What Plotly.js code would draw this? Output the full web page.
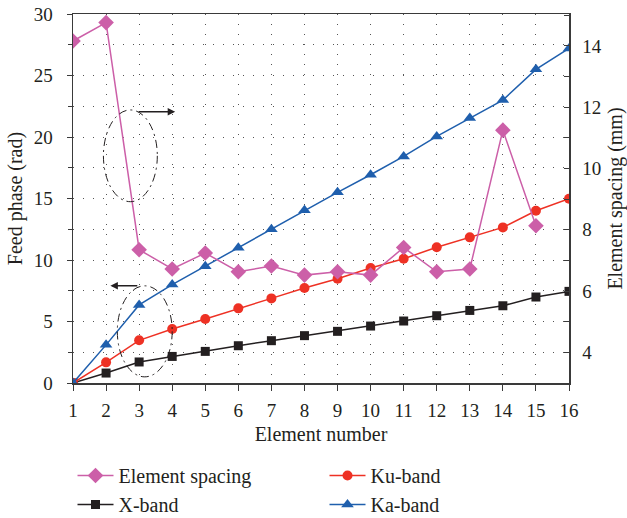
<!DOCTYPE html>
<html>
<head>
<meta charset="utf-8">
<script src="https://cdn.plot.ly/plotly-3.0.1.min.js"></script>
<style>html,body{margin:0;padding:0;background:#fff;}#chart{width:627px;height:518px;}</style>
</head>
<body>
<div id="chart"></div>
<script>
const elementNumber = [1,2,3,4,5,6,7,8,9,10,11,12,13,14,15,16];
const spacingElements = [1,2,3,4,5,6,7,8,9,10,11,12,13,14,15];
const elementSpacing = [14.16,14.76,7.35,6.72,7.24,6.63,6.82,6.52,6.63,6.52,7.42,6.63,6.72,11.25,8.13];
const xBand = [0,0.81,1.71,2.16,2.57,3.03,3.44,3.85,4.2,4.63,5.04,5.47,5.9,6.28,6.99,7.45];
const kuBand = [0,1.68,3.47,4.39,5.2,6.07,6.88,7.72,8.48,9.35,10.1,11.03,11.84,12.65,14.0,14.98];
const kaBand = [0,3.1,6.35,8.0,9.5,11.0,12.5,14.05,15.5,16.93,18.42,20.05,21.54,23.0,25.5,27.2];

const fontFam = "'Liberation Serif', 'Times New Roman', serif";
const axisCol = '#3a3a3a';
const gridCol = '#555';

const traces = [
  {x: elementNumber, y: xBand, name: 'X-band', type: 'scatter', mode: 'lines+markers',
   line: {color: '#231f20', width: 1.5}, marker: {symbol: 'square', size: 9, color: '#231f20'}, legendrank: 3},
  {x: elementNumber, y: kuBand, name: 'Ku-band', type: 'scatter', mode: 'lines+markers',
   line: {color: '#ee3124', width: 1.5}, marker: {symbol: 'circle', size: 10, color: '#ee3124'}, legendrank: 2},
  {x: elementNumber, y: kaBand, name: 'Ka-band', type: 'scatter', mode: 'lines+markers',
   line: {color: '#1f5fad', width: 1.5}, marker: {symbol: 'triangle-up', size: 11, color: '#1f5fad'}, legendrank: 4},
  {x: spacingElements, y: elementSpacing, name: 'Element spacing', type: 'scatter', mode: 'lines+markers', yaxis: 'y2',
   line: {color: '#cc5fa8', width: 1.5}, marker: {symbol: 'diamond', size: 12, color: '#cc5fa8'}, legendrank: 1}
];

const layout = {
  width: 627, height: 518,
  margin: {l: 73, r: 58, t: 14, b: 135, autoexpand: false},
  paper_bgcolor: '#fff', plot_bgcolor: '#fff',
  font: {family: fontFam, size: 19, color: '#231f20'},
  showlegend: true,
  legend: {orientation: 'h', x: -0.001, xanchor: 'left', y: -0.198, yanchor: 'top', itemwidth: 36,
           entrywidth: 201, font: {family: fontFam, size: 20, color: '#231f20'}, traceorder: 'normal'},
  xaxis: {range: [1, 16], dtick: 1, tick0: 1, ticks: 'outside', ticklen: 6, tickcolor: axisCol,
          showline: true, linecolor: axisCol, linewidth: 1.5, mirror: true, zeroline: false,
          showgrid: true, gridcolor: gridCol, griddash: '1px,9px', gridwidth: 1, ticklabelstandoff: 4,
          title: {text: 'Element number', font: {family: fontFam, size: 20}, standoff: 6}, tickfont: {family: fontFam, size: 19}},
  yaxis: {range: [0, 30], dtick: 5, ticks: 'outside', ticklen: 5, tickcolor: axisCol,
          showline: true, linecolor: axisCol, linewidth: 1.5, zeroline: false,
          showgrid: true, gridcolor: gridCol, griddash: '1px,9px', gridwidth: 1, ticklabelstandoff: 10,
          minor: {dtick: 2.5, ticks: 'outside', ticklen: 4, tickcolor: axisCol, showgrid: true, gridcolor: gridCol, griddash: '1px,9px'},
          title: {text: 'Feed phase (rad)', font: {family: fontFam, size: 20}, standoff: 5}, tickfont: {family: fontFam, size: 19}},
  yaxis2: {overlaying: 'y', side: 'right', range: [3.0, 15.04], dtick: 2, tick0: 0, ticks: 'inside', ticklen: 5, tickcolor: axisCol,
           showline: true, linecolor: axisCol, linewidth: 1.5, zeroline: false, showgrid: false, ticklabelstandoff: 8,
           minor: {dtick: 1, ticks: 'inside', ticklen: 5, tickcolor: axisCol},
           title: {text: 'Element spacing (mm)', font: {family: fontFam, size: 20}, standoff: 8}, tickfont: {family: fontFam, size: 19}},
  shapes: [
    {type: 'circle', xref: 'x', yref: 'y', x0: 1.92, x1: 3.55, y0: 14.74, y1: 22.2,
     line: {color: '#231f20', width: 1, dash: '8px,4px,2px,4px'}},
    {type: 'circle', xref: 'x', yref: 'y', x0: 2.34, x1: 4.0, y0: 0.5, y1: 7.9,
     line: {color: '#231f20', width: 1, dash: '8px,4px,2px,4px'}}
  ],
  annotations: [
    {x: 4.09, y: 22.06, ax: 2.94, ay: 22.06, axref: 'x', ayref: 'y', xref: 'x', yref: 'y', text: '',
     showarrow: true, arrowhead: 2, arrowsize: 1, arrowwidth: 1.5, arrowcolor: '#231f20'},
    {x: 2.13, y: 7.9, ax: 2.99, ay: 7.9, axref: 'x', ayref: 'y', xref: 'x', yref: 'y', text: '',
     showarrow: true, arrowhead: 2, arrowsize: 1, arrowwidth: 1.5, arrowcolor: '#231f20'}
  ]
};

Plotly.newPlot('chart', traces, layout, {displayModeBar: false, staticPlot: true});
</script>
</body>
</html>
